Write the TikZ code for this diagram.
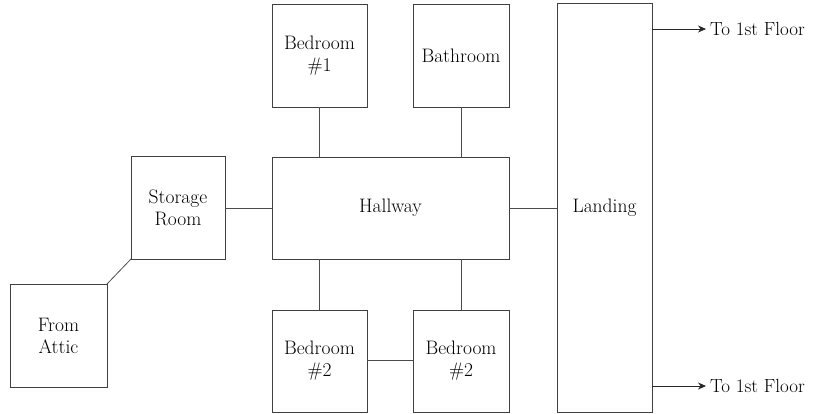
\documentclass[tikz,border=0pt]{standalone}
\usetikzlibrary{arrows.meta}
\begin{document}
\begin{tikzpicture}[x=1pt,y=-1pt,
  room/.style={draw=black!75,line width=0.8pt,inner sep=0pt,outer sep=0pt,align=center,
    font=\fontsize{19.5}{22}\selectfont,text=black},
  link/.style={draw=black!70,line width=0.8pt},
  exitarrow/.style={draw=black!85,line width=0.8pt,-{Stealth[length=8pt,width=7pt]}},
  lbl/.style={font=\fontsize{19}{22}\selectfont,anchor=west,inner sep=0pt,text=black}]
\useasboundingbox (0,0) rectangle (816,413);
\node[room,minimum width=95,minimum height=103] (bed1) at (319.5,55.5) {Bedroom\\\#1};
\node[room,minimum width=96,minimum height=103] (bath) at (461,55.5) {Bathroom};
\node[room,minimum width=237,minimum height=102] (hall) at (390.5,208) {Hallway};
\node[room,minimum width=94,minimum height=103] (stor) at (178,207.5) {Storage\\Room};
\node[room,minimum width=97,minimum height=103] (attic) at (58.5,335.5) {From\\Attic};
\node[room,minimum width=95,minimum height=102] (bed2a) at (319.5,361) {Bedroom\\\#2};
\node[room,minimum width=96,minimum height=102] (bed2b) at (461,361) {Bedroom\\\#2};
\node[room,minimum width=95,minimum height=409] (land) at (604.5,207.5) {Landing};
\coordinate (up) at (706,29);
\coordinate (dn) at (706,386);
\node[lbl] (upl) at (710,29) {To 1st Floor};
\node[lbl] (dnl) at (710,386) {To 1st Floor};
\draw[link] (bed1.south) -- (bed1.south |- hall.north);
\draw[link] (bath.south) -- (bath.south |- hall.north);
\draw[link] (bed2a.north) -- (bed2a.north |- hall.south);
\draw[link] (bath.south |- hall.south) -- (bed2b.north);
\draw[link] (stor.east |- hall.west) -- (hall.west);
\draw[link] (hall.east) -- (land.west |- hall.east);
\draw[link] (bed2a.east |- 0,360) -- (bed2b.west |- 0,360);
\draw[link] (stor.south west) -- (attic.north east);
\draw[exitarrow] (land.east |- up) -- (up);
\draw[exitarrow] (land.east |- dn) -- (dn);
\end{tikzpicture}
\end{document}
